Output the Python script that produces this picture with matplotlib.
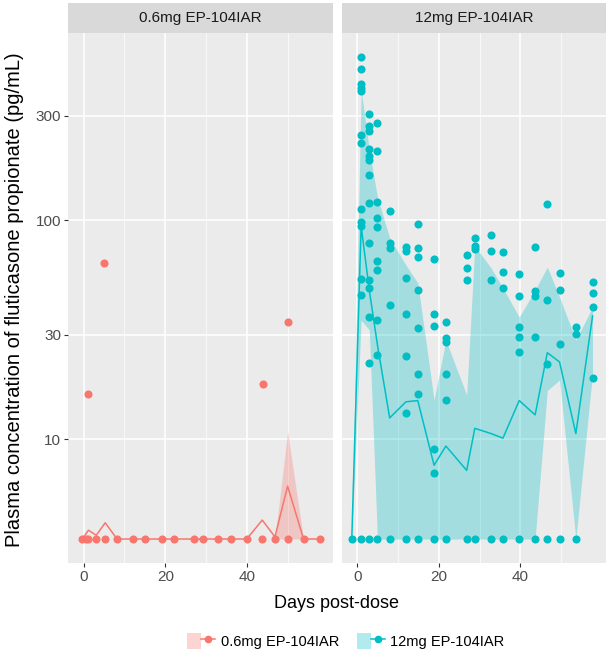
import numpy as np
import matplotlib
matplotlib.use("Agg")
import matplotlib.pyplot as plt
from matplotlib.patches import Patch
from matplotlib.lines import Line2D
from matplotlib.legend_handler import HandlerTuple

plt.rcParams['font.family'] = ['Liberation Sans', 'DejaVu Sans']

groups = ['0.6mg EP-104IAR', '12mg EP-104IAR']
colors = ['#F8766D', '#00BFC4']

# 0.6mg panel: observed points
low_pt_day = [-0.3, 0.5, 1.2, 3.1, 5.3, 8.2, 12.2, 15.1, 19.2, 22.0, 27.1, 29.1,
              33.0, 36.0, 39.9, 43.7, 46.8, 49.9, 53.8, 57.7,
              1.2, 5.1, 43.9, 50.0]
low_pt_conc = [3.5] * 20 + [16.0, 63.4, 17.9, 34.1]

# 0.6mg panel: summary line and band
low_line_day = [-0.3, 1.2, 3.1, 5.3, 8.2, 12.2, 15.1, 19.2, 22.0, 27.1, 29.1,
                33.0, 36.0, 39.9, 43.7, 46.8, 49.9, 53.8, 57.7]
low_line_conc = [3.5, 3.84, 3.64, 4.15, 3.5, 3.5, 3.5, 3.5, 3.5, 3.5, 3.5,
                 3.5, 3.5, 3.5, 4.27, 3.58, 6.10, 3.5, 3.5]
low_band_lo = [3.5] * 19
low_band_hi = [3.5] * 16 + [10.8, 3.5, 3.5]

# 12mg panel: observed points per sampling day
high_days = [-1.4, 0.9, 2.9, 4.9, 7.9, 11.9, 14.8, 18.8, 21.7, 26.8, 28.8,
             32.8, 35.7, 39.7, 43.6, 46.6, 49.6, 53.6, 57.7]
high_conc = [
    [3.5],
    [553, 488, 417, 402, 389, 244, 224, 112, 98.2, 93.9, 53.6, 45.5, 3.5],
    [305, 269, 256, 211, 195, 187, 160, 119, 78.3, 53.2, 48.8, 36.2, 22.2, 3.5],
    [277, 207, 121, 102, 92.6, 65.2, 59.1, 34.9, 24.2, 3.5],
    [110, 78.8, 74.3, 40.9, 3.5],
    [75.5, 72.2, 54.2, 37.1, 24.0, 13.1, 3.5],
    [95.5, 74.7, 68.0, 47.9, 32.2, 19.9, 16.0, 3.5],
    [66.2, 37.1, 33.0, 9.0, 7.0, 3.5],
    [34.1, 29.0, 27.8, 19.9, 15.1, 3.5],
    [69.2, 60.2, 53.2, 3.5],
    [82.5, 76.1, 73.5, 3.5],
    [85.4, 72.2, 53.2, 3.5],
    [71.2, 58.1, 49.1, 3.5],
    [56.7, 45.1, 32.4, 29.1, 25.0, 3.5],
    [75.0, 47.4, 45.1, 29.1, 3.5],
    [118, 43.1, 22.0, 3.5],
    [57.1, 47.9, 27.1, 3.5],
    [32.6, 30.2, 3.5],
    [52.3, 46.3, 40.2, 19.1],
]

# 12mg panel: summary line and band
high_line_conc = [3.5, 93.9, 47.9, 26.9, 12.5, 14.8, 15.0, 7.6, 9.3, 7.2, 11.2,
                  10.6, 10.1, 15.0, 12.9, 24.8, 22.5, 10.6, 36.5]
high_band_lo = [3.5, 34.9, 31.5, 3.5, 3.5, 3.5, 3.5, 3.5, 3.5, 3.5, 3.5,
                3.5, 3.5, 3.5, 3.5, 16.7, 18.6, 3.5, 20.0]
high_band_hi = [3.5, 392, 209, 127, 82.8, 62.3, 51.6, 15.1, 28.3, 15.9, 76.1,
                60.4, 48.9, 36.1, 47.9, 61.0, 44.5, 28.3, 40.1]

high_pt_day = [d for d, c in zip(high_days, high_conc) for _ in c]
high_pt_conc = [v for c in high_conc for v in c]

panels = [
    (low_pt_day, low_pt_conc, low_line_day, low_line_conc, low_band_lo, low_band_hi),
    (high_pt_day, high_pt_conc, high_days, high_line_conc, high_band_lo, high_band_hi),
]

W, H = 610, 664
fig = plt.figure(figsize=(W / 100, H / 100), dpi=100)

panel_x = [(68, 333), (342, 606)]
top, bottom = 33, 563
strip_top = 3

for i, (x0, x1) in enumerate(panel_x):
    ax = fig.add_axes([x0 / W, 1 - bottom / H, (x1 - x0) / W, (bottom - top) / H])
    pd_, pc, ld, lc, blo, bhi = panels[i]
    col = colors[i]
    ax.set_facecolor('#EBEBEB')
    ax.fill_between(ld, blo, bhi, color=col, alpha=0.3, linewidth=0, zorder=2)
    ax.plot(ld, lc, color=col, linewidth=1.1, zorder=3)
    ax.scatter(pd_, pc, s=34, color=col, linewidths=0, zorder=4)
    ax.set_yscale('log')
    ax.set_ylim(2.72, 714)
    ax.set_xlim(-3.8, 61.0)
    ax.set_xticks([0, 20, 40])
    ax.set_xticks([10, 30, 50], minor=True)
    ax.set_yticks([10, 30, 100, 300])
    ax.yaxis.set_minor_locator(matplotlib.ticker.NullLocator())
    ax.grid(True, which='major', color='white', linewidth=1.1, zorder=0)
    ax.grid(True, which='minor', axis='x', color='white', linewidth=0.5, zorder=0)
    ax.set_axisbelow(True)
    for s in ax.spines.values():
        s.set_visible(False)
    ax.tick_params(axis='both', which='major', length=3, width=0.8, color='#333333',
                   labelcolor='#4D4D4D', labelsize=11, pad=2)
    ax.tick_params(axis='x', which='minor', length=0)
    if i == 0:
        ax.set_yticklabels(['10', '30', '100', '300'])
    else:
        ax.set_yticklabels([])
        ax.tick_params(axis='y', length=0)

    sx = fig.add_axes([x0 / W, 1 - top / H, (x1 - x0) / W, (top - strip_top) / H])
    sx.set_facecolor('#D9D9D9')
    sx.set_xticks([])
    sx.set_yticks([])
    for s in sx.spines.values():
        s.set_visible(False)
    sx.text(0.5, 0.5, groups[i], ha='center', va='center', fontsize=11,
            color='#1A1A1A', transform=sx.transAxes)

fig.text(337 / W, 1 - 603 / H, 'Days post-dose', ha='center', va='center', fontsize=13)
fig.text(15 / W, 1 - 300 / H, 'Plasma concentration of fluticasone propionate (pg/mL)',
         ha='center', va='center', rotation=90, fontsize=14.5)

handles = []
for col in colors:
    handles.append((Patch(facecolor=col, alpha=0.3, edgecolor='none'),
                    Line2D([], [], color=col, linewidth=1.1, marker='o', markersize=4.5)))
fig.legend(handles, groups, ncol=2, loc='center', bbox_to_anchor=(346 / W, 1 - 641 / H),
           frameon=False, fontsize=10.5, handlelength=1.9, handleheight=1.3,
           handletextpad=0.4, columnspacing=1.2, numpoints=1,
           handler_map={tuple: HandlerTuple(ndivide=None, pad=0)})

fig.savefig('out.png', dpi=100)
